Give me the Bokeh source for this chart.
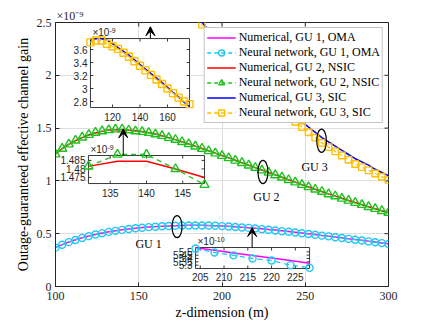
import math
from bokeh.plotting import figure
from bokeh.models import (Range1d, FixedTicker, Legend, LegendItem,
                          Arrow, VeeHead, CustomJSTickFormatter, Title)
from bokeh.core.properties import value
from bokeh.embed import file_html
from bokeh.resources import INLINE

# ---------------- data (values in units of 1e-9) ----------------
z_m = [100, 104, 108, 112, 116, 120, 124, 128, 132, 136, 140, 144, 148, 152, 156, 160, 164,
       168, 172, 176, 180, 184, 188, 192, 196, 200, 204, 208, 212, 216, 220, 224, 228, 232,
       236, 240, 244, 248, 252, 256, 260, 264, 268, 272, 276, 280, 284, 288, 292, 296, 300]

gu1_numerical = [0.370, 0.397, 0.421, 0.442, 0.461, 0.478, 0.493, 0.506, 0.518, 0.528,
                 0.537, 0.545, 0.552, 0.558, 0.563, 0.567, 0.571, 0.574, 0.576, 0.578,
                 0.579, 0.579, 0.579, 0.578, 0.576, 0.573, 0.570, 0.566, 0.562, 0.557,
                 0.552, 0.546, 0.540, 0.534, 0.527, 0.520, 0.513, 0.506, 0.499, 0.492,
                 0.484, 0.477, 0.469, 0.461, 0.453, 0.445, 0.437, 0.429, 0.421, 0.413, 0.405]
gu1_neural = [0.368, 0.396, 0.420, 0.441, 0.460, 0.477, 0.492, 0.505, 0.517, 0.527,
              0.536, 0.544, 0.551, 0.557, 0.562, 0.566, 0.570, 0.573, 0.575, 0.577,
              0.578, 0.578, 0.578, 0.577, 0.575, 0.572, 0.568, 0.564, 0.559, 0.555,
              0.550, 0.543, 0.537, 0.531, 0.524, 0.518, 0.511, 0.504, 0.497, 0.490,
              0.482, 0.475, 0.467, 0.459, 0.451, 0.443, 0.435, 0.427, 0.419, 0.411, 0.403]

gu2_numerical = [1.255, 1.305, 1.345, 1.380, 1.410, 1.434, 1.454, 1.469, 1.4815, 1.4845,
                 1.4845, 1.480, 1.475,
                 1.467, 1.457, 1.444, 1.428, 1.410, 1.391, 1.371, 1.350, 1.329, 1.307,
                 1.285, 1.263, 1.240, 1.218, 1.195, 1.172, 1.149, 1.126, 1.103, 1.080,
                 1.057, 1.034, 1.011, 0.988, 0.965, 0.943, 0.921, 0.899, 0.877, 0.856,
                 0.835, 0.815, 0.795, 0.775, 0.756, 0.737, 0.718, 0.700]
gu2_neural = [1.252, 1.306, 1.347, 1.383, 1.412, 1.437, 1.457, 1.471, 1.4815, 1.4885,
              1.4885, 1.480, 1.4707,
              1.465, 1.456, 1.442, 1.427, 1.408, 1.390, 1.369, 1.349, 1.327, 1.306,
              1.283, 1.262, 1.238, 1.217, 1.193, 1.171, 1.147, 1.125, 1.101, 1.079,
              1.055, 1.033, 1.009, 0.987, 0.963, 0.942, 0.919, 0.898, 0.875, 0.855,
              0.833, 0.814, 0.793, 0.774, 0.754, 0.736, 0.716, 0.699]

gu3_numerical = [3.68, 3.745, 3.765, 3.765, 3.745, 3.69, 3.63, 3.57, 3.51, 3.44,
                 3.37, 3.30, 3.23, 3.16, 3.09, 3.02, 2.94, 2.87, 2.79, 2.72,
                 2.65, 2.57, 2.50, 2.43, 2.36, 2.29, 2.22, 2.15, 2.09, 2.02,
                 1.96, 1.90, 1.84, 1.78, 1.72, 1.66, 1.61, 1.56, 1.51, 1.46,
                 1.41, 1.37, 1.33, 1.29, 1.25, 1.21, 1.18, 1.15, 1.11, 1.08, 1.05]
gu3_neural = [3.62, 3.71, 3.74, 3.74, 3.69, 3.65, 3.61, 3.55, 3.49, 3.42,
              3.35, 3.28, 3.21, 3.14, 3.07, 3.00, 2.93, 2.86, 2.80, 2.76,
              2.64, 2.56, 2.48, 2.42, 2.34, 2.27, 2.20, 2.13, 2.06, 1.99,
              1.93, 1.86, 1.80, 1.74, 1.68, 1.62, 1.56, 1.51, 1.46, 1.41,
              1.36, 1.32, 1.28, 1.24, 1.20, 1.16, 1.13, 1.10, 1.07, 1.04, 1.01]

# inset around GU 1 (values in units of 1e-10)
inset3_z = [204, 208, 212, 216, 220, 224, 228]
inset3_numerical = [5.56, 5.522, 5.484, 5.446, 5.408, 5.369, 5.33]
inset3_neural = [5.55, 5.49, 5.447, 5.40, 5.37, 5.30, 5.26]

x_ticks = [100, 150, 200, 250, 300]
x_tick_labels = ["100", "150", "200", "250", "300"]
y_ticks = [0, 0.5, 1, 1.5, 2, 2.5]
y_tick_labels = ["0", "0.5", "1", "1.5", "2", "2.5"]
y_exponent_text = "×10⁻⁹"

inset1_x_ticks = [120, 140, 160]
inset1_x_labels = ["120", "140", "160"]
inset1_y_ticks = [2.8, 3.0, 3.2, 3.4, 3.6]
inset1_y_labels = ["2.8", "3", "3.2", "3.4", "3.6"]
inset2_x_ticks = [135, 140, 145]
inset2_x_labels = ["135", "140", "145"]
inset2_y_ticks = [1.475, 1.48, 1.485]
inset2_y_labels = ["1.475", "1.48", "1.485"]
inset3_x_ticks = [205, 210, 215, 220, 225]
inset3_x_labels = ["205", "210", "215", "220", "225"]
inset3_y_ticks = [5.3, 5.35, 5.4, 5.45, 5.5]
inset3_y_labels = ["5.3", "5.35", "5.4", "5.45", "5.5"]

legend_labels = ["Numerical, GU 1, OMA", "Neural network, GU 1, OMA",
                 "Numerical, GU 2, NSIC", "Neural network, GU 2, NSIC",
                 "Numerical, GU 3, SIC", "Neural network, GU 3, SIC"]
gu_text = ["GU 3", "GU 2", "GU 1"]

# ---------------- layout / style ----------------
X_RANGE = (100, 300)
Y_RANGE = (0, 2.5)
SERIF = "Liberation Serif"
SANS = "Liberation Sans"
AX = "#262626"
INSET_AX = "#3a3a3a"
MAGENTA, CYAN = "#ff00ff", "#1ec8f2"
RED, GREEN = "#ff0000", "#1fc21f"
BLUE, YELLOW = "#0000ff", "#ffbf00"

# inset boxes in main-axis units: (x0, x1, y0, y1); inset ranges
INSET1 = dict(box=(121.0, 180.5, 1.695, 2.348), xr=(104, 176), yr=(2.708, 3.769))
INSET2 = dict(box=(119.8, 189.5, 0.975, 1.2405), xr=(132, 148), yr=(1.4714, 1.4879))
INSET3 = dict(box=(184.1, 252.6, 0.1705, 0.3693), xr=(204, 228), yr=(5.25, 5.565))

gu_text_pos = [(255.6, 1.136), (226.7, 0.85), (155.9, 0.40)]
ellipses = [(259.8, 1.38, 5.8, 0.22), (224.6, 1.084, 6.0, 0.22), (173.0, 0.567, 6.0, 0.21)]
arrows = [(157.0, 2.46), (140.7, 1.493), (218.1, 0.558)]  # tip positions (start at inset tops)


def fixed_formatter(tick_values, tick_labels):
    return CustomJSTickFormatter(
        args=dict(tv=tick_values, tl=tick_labels),
        code="for (let i = 0; i < tv.length; i++) { if (Math.abs(tv[i] - tick) < 1e-9) return tl[i]; } return '';")


p = figure(frame_width=333, frame_height=264,
           x_range=Range1d(*X_RANGE), y_range=Range1d(*Y_RANGE),
           output_backend="svg", toolbar_location=None,
           min_border_left=55, min_border_right=41, min_border_top=22, min_border_bottom=36)
p.outline_line_color = AX
p.outline_line_width = 1
p.background_fill_color = "white"

p.title = Title(text=y_exponent_text, align="left", offset=1, standoff=0,
                text_font=SERIF, text_font_size="12px", text_font_style="normal",
                text_color=AX)

p.xaxis.ticker = FixedTicker(ticks=x_ticks)
p.xaxis.formatter = fixed_formatter(x_ticks, x_tick_labels)
p.yaxis.ticker = FixedTicker(ticks=y_ticks)
p.yaxis.formatter = fixed_formatter(y_ticks, y_tick_labels)
for ax in (p.xaxis, p.yaxis):
    ax.major_tick_in = 4
    ax.major_tick_out = 0
    ax.minor_tick_in = 0
    ax.minor_tick_out = 0
    ax.axis_line_color = AX
    ax.major_tick_line_color = AX
    ax.major_label_text_font = SERIF
    ax.major_label_text_font_size = "12px"
    ax.major_label_text_color = AX
    ax.axis_label_text_font = SERIF
    ax.axis_label_text_font_size = "14px"
    ax.axis_label_text_font_style = "normal"
    ax.axis_label_text_color = "black"
p.xaxis.major_label_standoff = 5
p.yaxis.major_label_standoff = 4
p.xaxis.axis_label = "z-dimension (m)"
p.xaxis.axis_label_standoff = 2
p.yaxis.axis_label = "Outage-guaranteed effective channel gain"
p.yaxis.axis_label_standoff = 3

p.xgrid.grid_line_color = "#dedede"
p.ygrid.grid_line_color = "#dedede"

# tick marks on the top and right edges of the box
nx, ny = len(x_ticks), len(y_ticks)
p.ray(x=x_ticks, y=[Y_RANGE[1]] * nx, length=4, length_units="screen",
      angle=-math.pi / 2, line_color=AX, line_width=1)
p.ray(x=[X_RANGE[1]] * ny, y=y_ticks, length=4, length_units="screen",
      angle=math.pi, line_color=AX, line_width=1)

# main series
r1 = p.line(z_m, gu1_numerical, color=MAGENTA, line_width=1.5)
r2l = p.line(z_m, gu1_neural, color=CYAN, line_width=1.3, line_dash="4 3")
r2s = p.scatter(z_m, gu1_neural, marker="circle", size=7, line_color=CYAN, fill_color=None, line_width=1.4)
r3 = p.line(z_m, gu2_numerical, color=RED, line_width=1.5)
r4l = p.line(z_m, gu2_neural, color=GREEN, line_width=1.3, line_dash="4 3")
r4s = p.scatter(z_m, gu2_neural, marker="triangle", size=9, line_color=GREEN, fill_color=None, line_width=1.4)
r5 = p.line(z_m, gu3_numerical, color=BLUE, line_width=1.5)
r6l = p.line(z_m, gu3_neural, color=YELLOW, line_width=1.3, line_dash="4 3")
r6s = p.scatter(z_m, gu3_neural, marker="square", size=6.5, line_color=YELLOW, fill_color=None, line_width=1.4)


def add_inset(key, box, xr, yr, xt, xtl, yt, ytl, exponent):
    bx0, bx1, by0, by1 = box
    kx = (xr[1] - xr[0]) / (bx1 - bx0)
    ky = (yr[1] - yr[0]) / (by1 - by0)
    p.extra_x_ranges[key] = Range1d(start=xr[0] + (X_RANGE[0] - bx0) * kx,
                                    end=xr[0] + (X_RANGE[1] - bx0) * kx)
    p.extra_y_ranges[key] = Range1d(start=yr[0] + (Y_RANGE[0] - by0) * ky,
                                    end=yr[0] + (Y_RANGE[1] - by0) * ky)
    p.quad(left=[bx0], right=[bx1], bottom=[by0], top=[by1], fill_color="white",
           line_color=INSET_AX, line_width=1)
    kw = dict(x_range_name=key, y_range_name=key)
    n, m = len(xt), len(yt)
    tick = dict(length=3, length_units="screen", line_color=INSET_AX, line_width=1, **kw)
    p.ray(x=xt, y=[yr[0]] * n, angle=math.pi / 2, **tick)
    p.ray(x=xt, y=[yr[1]] * n, angle=-math.pi / 2, **tick)
    p.ray(x=[xr[0]] * m, y=yt, angle=0, **tick)
    p.ray(x=[xr[1]] * m, y=yt, angle=math.pi, **tick)
    txt = dict(text_font=value(SANS), text_font_size="10px", text_color=AX, **kw)
    p.text(x=xt, y=[yr[0]] * n, text=xtl, text_align="center", text_baseline="top",
           y_offset=5, **txt)
    p.text(x=[xr[0]] * m, y=yt, text=ytl, text_align="right", text_baseline="middle",
           x_offset=-3, **txt)
    p.text(x=[xr[0]], y=[yr[1]], text=["×10"], text_align="left", text_baseline="bottom",
           x_offset=2, y_offset=-1, **txt)
    p.text(x=[xr[0]], y=[yr[1]], text=[exponent], text_align="left", text_baseline="bottom",
           x_offset=19, y_offset=-6, text_font=value(SANS), text_font_size="7px",
           text_color=AX, **kw)
    return kw


def within(xs, ys, lo, hi):
    pts = [(a, b) for a, b in zip(xs, ys) if lo <= a <= hi]
    return [a for a, _ in pts], [b for _, b in pts]


# inset 1 (GU 3)
k1 = add_inset("i1", INSET1["box"], INSET1["xr"], INSET1["yr"],
               inset1_x_ticks, inset1_x_labels, inset1_y_ticks, inset1_y_labels, "-9")
xa, ya = within(z_m, gu3_numerical, *INSET1["xr"])
xb, yb = within(z_m, gu3_neural, *INSET1["xr"])
p.line(xa, ya, color=BLUE, line_width=1.5, **k1)
p.line(xb, yb, color=YELLOW, line_width=1.3, line_dash="4 3", **k1)
p.scatter(xb, yb, marker="square", size=7, line_color=YELLOW, fill_color=None, line_width=1.4, **k1)

# inset 2 (GU 2)
k2 = add_inset("i2", INSET2["box"], INSET2["xr"], INSET2["yr"],
               inset2_x_ticks, inset2_x_labels, inset2_y_ticks, inset2_y_labels, "-9")
xa, ya = within(z_m, gu2_numerical, *INSET2["xr"])
xb, yb = within(z_m, gu2_neural, *INSET2["xr"])
p.line(xa, ya, color=RED, line_width=1.5, **k2)
p.line(xb, yb, color=GREEN, line_width=1.3, line_dash="5 4", **k2)
p.scatter(xb, yb, marker="triangle", size=9, line_color=GREEN, fill_color=None, line_width=1.4, **k2)

# inset 3 (GU 1)
k3 = add_inset("i3", INSET3["box"], INSET3["xr"], INSET3["yr"],
               inset3_x_ticks, inset3_x_labels, inset3_y_ticks, inset3_y_labels, "-10")
p.line(inset3_z, inset3_numerical, color=MAGENTA, line_width=1.5, **k3)
p.line(inset3_z, inset3_neural, color=CYAN, line_width=1.3, line_dash="5 4", **k3)
p.scatter(inset3_z, inset3_neural, marker="circle", size=7, line_color=CYAN, fill_color=None,
          line_width=1.4, **k3)

# ellipses and GU labels
p.ellipse(x=[e[0] for e in ellipses], y=[e[1] for e in ellipses],
          width=[e[2] for e in ellipses], height=[e[3] for e in ellipses],
          fill_color=None, line_color="black", line_width=1.2)
p.text(x=[t[0] for t in gu_text_pos], y=[t[1] for t in gu_text_pos], text=gu_text,
       text_align="center", text_baseline="middle", text_font=value(SERIF),
       text_font_size="12px", text_color="black")

# arrows from inset tops to curves
for (ax_, tip), ins in zip(arrows, (INSET1, INSET2, INSET3)):
    p.add_layout(Arrow(end=VeeHead(size=9, fill_color="black", line_color="black", line_width=1),
                       x_start=ax_, y_start=ins["box"][3], x_end=ax_, y_end=tip,
                       line_color="black", line_width=1))

legend = Legend(items=[
    LegendItem(label=legend_labels[0], renderers=[r1]),
    LegendItem(label=legend_labels[1], renderers=[r2l, r2s]),
    LegendItem(label=legend_labels[2], renderers=[r3]),
    LegendItem(label=legend_labels[3], renderers=[r4l, r4s]),
    LegendItem(label=legend_labels[4], renderers=[r5]),
    LegendItem(label=legend_labels[5], renderers=[r6l, r6s]),
], location="top_right")
legend.label_text_font = SERIF
legend.label_text_font_size = "12px"
legend.label_text_color = "black"
legend.glyph_width = 29
legend.glyph_height = 15
legend.label_height = 15
legend.label_standoff = 3
legend.spacing = 0
legend.padding = 2
legend.margin = 5
legend.border_line_color = "#888888"
legend.border_line_width = 1
legend.background_fill_alpha = 1
p.add_layout(legend)

open("out.html", "w").write(file_html(p, INLINE))
